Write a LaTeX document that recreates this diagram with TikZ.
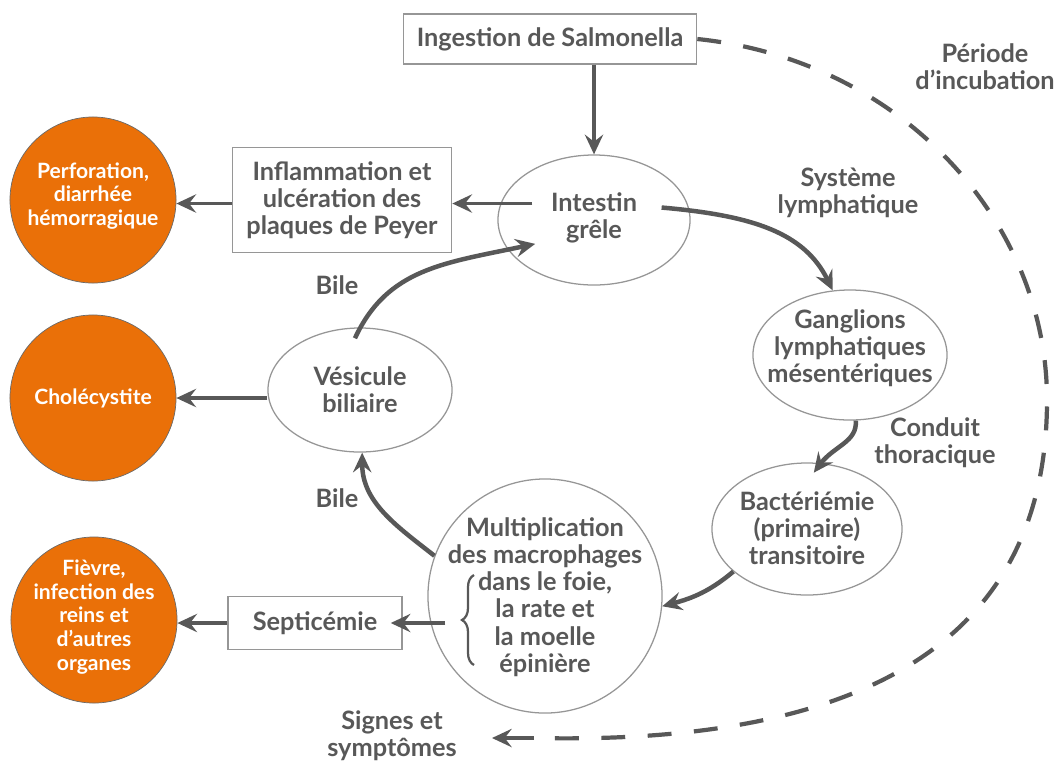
\documentclass[tikz,border=0pt]{standalone}
\usepackage{fontspec}
\setmainfont{Lato}
\definecolor{SalGris}{RGB}{88,88,88}
\definecolor{SalBord}{RGB}{150,150,150}
\definecolor{SalOrange}{RGB}{234,112,8}
\usepackage{tikz}
\usetikzlibrary{
    shapes.geometric,
    arrows.meta,
    decorations.pathreplacing,
}

\begin{document}
\begin{tikzpicture}[x=0.025cm, y=-0.025cm,
    texte/.style={font=\fontsize{18}{19.4}\selectfont\bfseries, text=SalGris, align=center},
    blanc/.style={font=\fontsize{15}{16.8}\selectfont\bfseries, text=white, align=center},
    boite/.style={draw=SalBord, line width=1pt, inner sep=0pt},
    bulle/.style={ellipse, draw=SalBord, line width=0.9pt, inner sep=0pt},
    issue/.style={circle, fill=SalOrange, draw=SalBord!70!black, line width=0.5pt, minimum size=4.15cm, inner sep=0pt},
    fleche/.style={draw=SalGris, line width=2.5pt, -{Stealth[length=14pt, width=13pt, inset=5pt]}},
    courbe/.style={fleche, line width=3.2pt},
    pointille/.style={draw=SalGris, line width=3pt, dash pattern=on 17pt off 16pt},
]
        \useasboundingbox (0,0) rectangle (1056,765);

        % cycle
        \node[boite, texte, minimum width=7.33cm, minimum height=1.25cm] (ingestion) at (550,39) {Ingestion de Salmonella};
        \node[bulle, minimum width=4.8cm, minimum height=3.25cm] (intestin) at (594,220) {};
        \node[texte] (intestin-t) at (594,218) {Intestin\\grêle};
        \node[bulle, minimum width=4.85cm, minimum height=3.25cm] (ganglions) at (850,355) {};
        \node[texte] (ganglions-t) at (850,348) {Ganglions\\lymphatiques\\mésentériques};
        \node[bulle, minimum width=4.75cm, minimum height=3.3cm] (bacteriemie) at (807,529) {};
        \node[texte] (bacteriemie-t) at (807,528) {Bactériémie\\(primaire)\\transitoire};
        \node[bulle, minimum width=5.85cm, minimum height=5.85cm] (multiplication) at (545,596) {};
        \node[texte] (multiplication-t) at (545,597) {Multiplication\\des macrophages\\dans le foie,\\la rate et\\la moelle\\épinière};
        \node[bulle, minimum width=4.6cm, minimum height=3.1cm] (vesicule) at (360,390) {};
        \node[texte] (vesicule-t) at (360,390) {Vésicule\\biliaire};
        \draw[SalGris, line width=1.6pt, decorate, decoration={brace, amplitude=0.3cm}] (474,665) -- (474,575);

        % complications
        \node[boite, texte, minimum width=5.48cm, minimum height=2.62cm] (inflammation) at (342,200) {Inflammation et\\ulcération des\\plaques de Peyer};
        \node[boite, texte, minimum width=4.35cm, minimum height=1.33cm] (septicemie) at (315,623) {Septicémie};
        \node[issue] (perforation) at (93,200) {};
        \node[blanc] (perforation-t) at (93,196) {Perforation,\\diarrhée\\hémorragique};
        \node[issue] (cholecystite) at (93,398) {};
        \node[blanc] (cholecystite-t) at (93,398) {Cholécystite};
        \node[issue] (fievre) at (94,620) {};
        \node[blanc] (fievre-t) at (94,617) {Fièvre,\\infection des\\reins et\\d’autres\\organes};

        % etiquettes
        \node[texte] (lymph) at (848,193) {Système\\lymphatique};
        \node[texte] (conduit) at (935,443) {Conduit\\thoracique};
        \node[texte] (bile-haut) at (337,285) {Bile};
        \node[texte] (bile-bas) at (337,498) {Bile};
        \node[texte] (incubation) at (985,67) {Période\\d’incubation};
        \node[texte] (signes) at (392,736) {Signes et\\symptômes};
        \coordinate (queue) at (534,738);
        \coordinate (fin) at (492,738);

        % fleches
        \draw[fleche] (ingestion.south -| intestin.north) -- (intestin.north);
        \draw[fleche, shorten <=-0.8cm] (intestin.170) -- (intestin.170 -| inflammation.east);
        \draw[fleche] (inflammation.west |- intestin.170) -- (perforation.east |- intestin.170);
        \draw[fleche] (vesicule.west |- cholecystite) -- (cholecystite.east);
        \draw[fleche, shorten <=-0.45cm, shorten >=-0.3cm] (multiplication.west |- septicemie) -- (septicemie.east);
        \draw[fleche] (septicemie.west) -- (septicemie.west -| fievre.east);
        \draw[courbe, shorten <=-0.7cm] (intestin.6) to[out=-5, in=116] (ganglions.105);
        \draw[courbe, shorten >=-0.3cm] (ganglions.-85) to[out=-85, in=53] (bacteriemie.78);
        \draw[courbe] (bacteriemie.210) to[out=-140, in=15] (multiplication.-5);
        \draw[courbe] (multiplication.160) to[out=142, in=-90] (vesicule.-88);
        \draw[courbe, shorten <=-0.3cm, shorten >=-0.7cm] (vesicule.north) to[out=65, in=192] (intestin.199);
        \draw[pointille] (ingestion.east) .. controls (900,60) and (1047,220) .. (1047,400)
            .. controls (1047,650) and (850,745) .. (queue);
        \draw[fleche, line width=3pt] (queue) -- (fin);
    \end{tikzpicture}
\end{document}
